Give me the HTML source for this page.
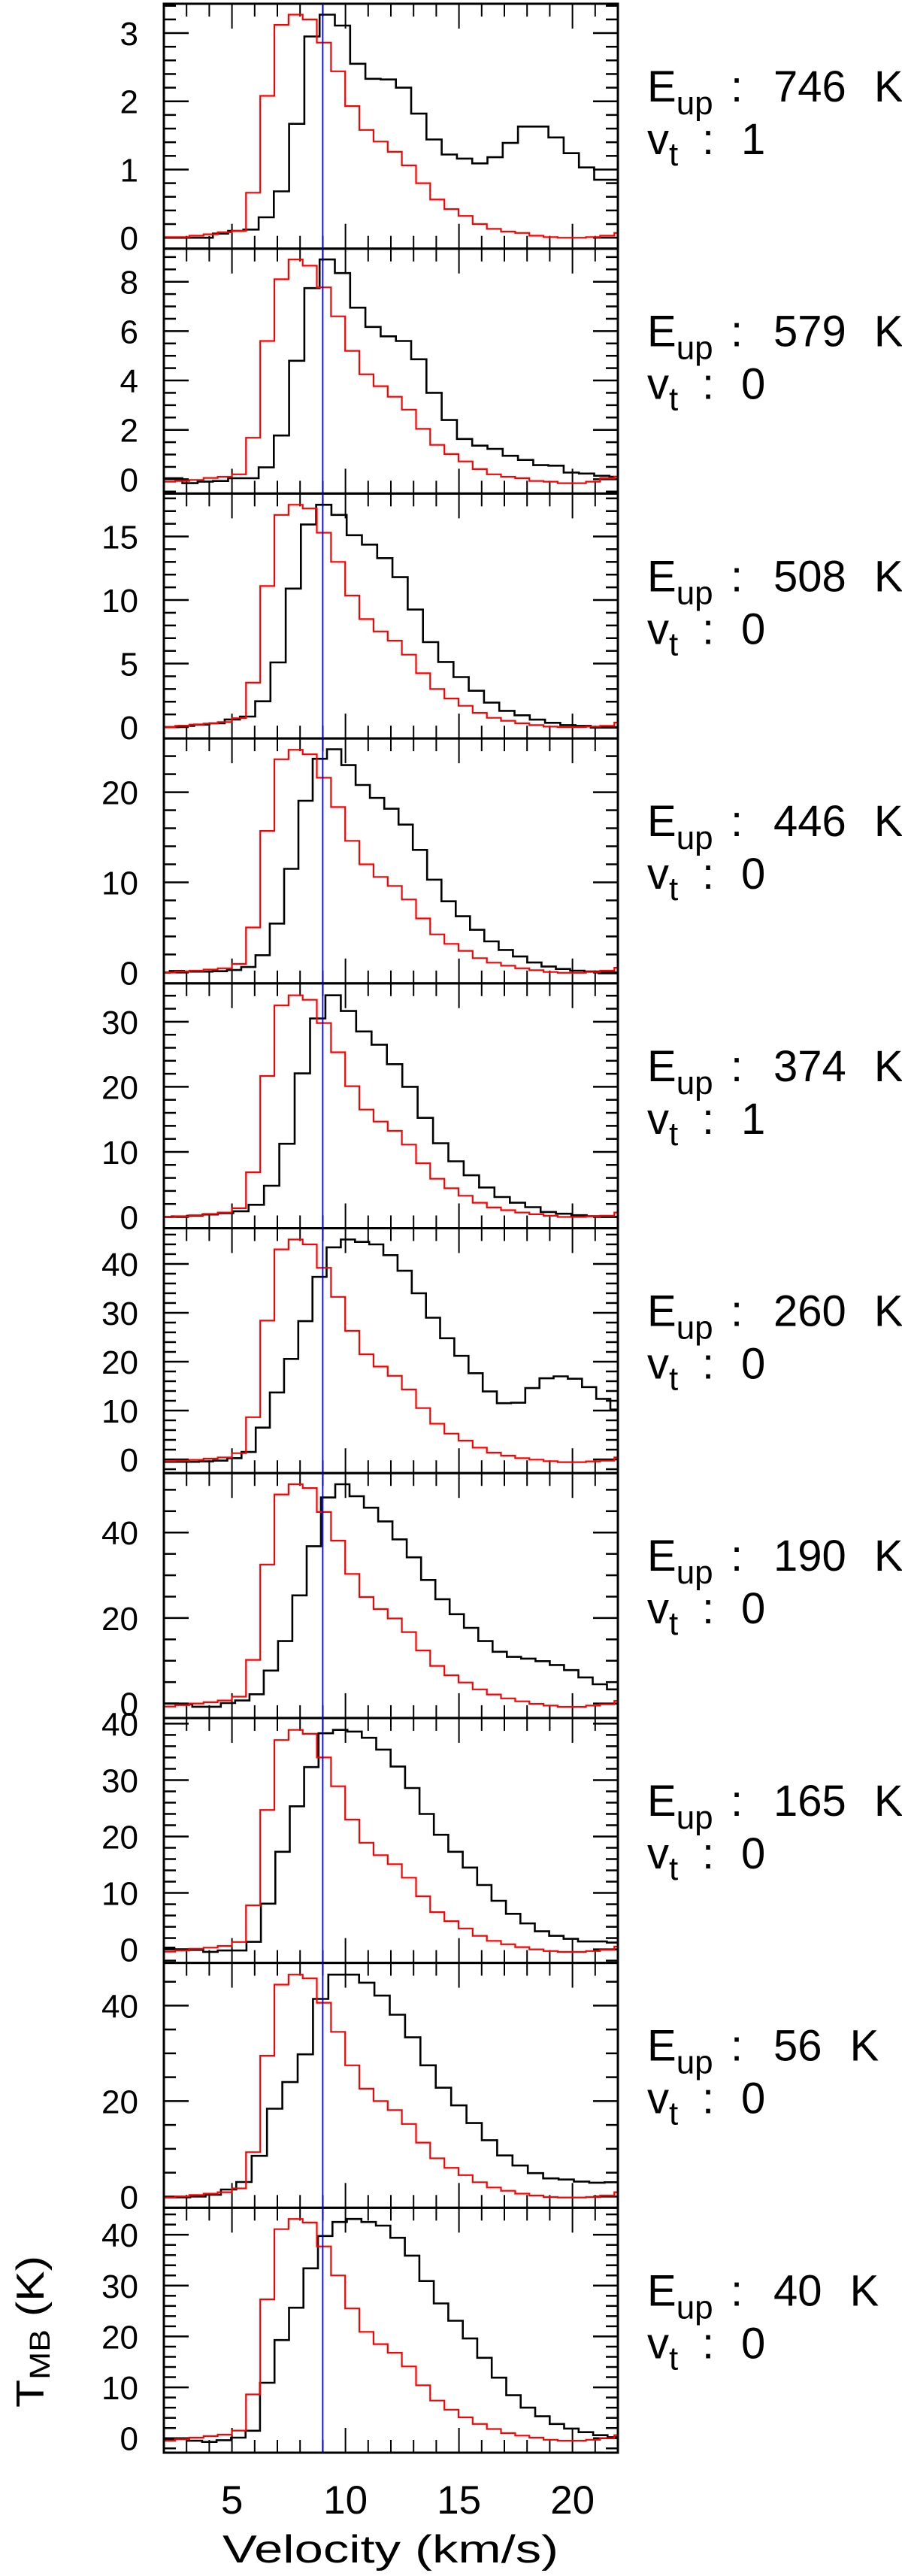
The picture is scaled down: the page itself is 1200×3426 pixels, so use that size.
<!DOCTYPE html>
<html><head><meta charset="utf-8"><title>Line profiles</title>
<style>html,body{margin:0;padding:0;background:#fff;}svg{display:block;font-family:"Liberation Sans",sans-serif;}</style>
</head><body>
<svg id="chart" xmlns="http://www.w3.org/2000/svg" width="1200" height="3426" viewBox="0 0 1200 3426">
<rect width="1200" height="3426" fill="#fff"/>
<g id="panels"></g>
<g id="xlabels"></g>
<text x="296" y="3408" font-size="52" textLength="447" lengthAdjust="spacingAndGlyphs">Velocity (km/s)</text>
<g transform="translate(58,3202) rotate(-90)">
<text x="0" y="0" font-size="52" textLength="202" lengthAdjust="spacingAndGlyphs">T<tspan font-size="38" dy="8">MB</tspan><tspan dy="-8"> (K)</tspan></text>
</g>
</svg>
<script>
// ---- data ----
const eupValues = [746, 579, 508, 446, 374, 260, 190, 165, 56, 40];
const vtValues = [1, 0, 0, 0, 1, 0, 0, 0, 0, 0];
const yMins = [-0.16, -0.58, -0.89, -1.2, -1.73, -2.8, -3.4, -2.4, -2.36, -2.85];
const yMaxs = [3.43, 9.34, 18.38, 25.96, 35.9, 47.3, 53.9, 41.0, 48.95, 45.3];
const yTickLabels = [[0,1,2,3],[0,2,4,6,8],[0,5,10,15],[0,10,20],[0,10,20,30],[0,10,20,30,40],[0,20,40],[0,10,20,30,40],[0,20,40],[0,10,20,30,40]];
const yMinorSteps = [0.2, 0.5, 1, 2, 2, 2, 5, 2, 5, 2];
const xTickLabels = [5, 10, 15, 20];
const xMin = 2, xMax = 22;
const refVelocity = 9.0;
const blackStarts = [1.47, 1.47, 1.99, 1.627, 1.67, 1.67, 1.99, 1.83, 1.81, 1.77];
const blackSteps = [0.672, 0.672, 0.672, 0.63, 0.677, 0.625, 0.63, 0.635, 0.676, 0.638];
const redStart = 1.876, redStep = 0.624;
const black1 = [0,0,0,0,0.06,0.1,0.12,0.3,0.68,1.67,2.95,3.27,3.11,2.55,2.33,2.32,2.2,1.82,1.44,1.22,1.16,1.09,1.18,1.39,1.63,1.63,1.47,1.24,1.03,0.85,0.85];
const black2 = [0.04,0.04,-0.16,-0.1,-0.07,0.04,0.04,0.48,1.77,4.8,7.74,8.9,8.35,6.95,6.17,5.79,5.6,4.86,3.5,2.4,1.63,1.36,1.23,0.95,0.78,0.57,0.55,0.27,0.23,0.14,0.1];
const black3 = [0,0.1,0.2,0.3,0.6,0.83,2.03,5.09,10.9,15.94,17.5,16.7,15.1,14.36,13.3,11.8,9.25,6.69,5.13,3.94,2.86,1.93,1.28,0.93,0.59,0.34,0.16,0.1,-0.04,-0.04];
const black4 = [0,0.17,0.1,0.1,0.14,0.28,0.61,1.92,5.43,11.5,19.05,23.7,24.76,23.0,20.8,19.36,18.16,16.4,13.6,10.3,7.9,6.24,4.74,3.45,2.5,1.78,1.11,0.67,0.39,0.2,0.11,-0.08,-0.08];
const black5 = [0,0.08,0.19,0.38,0.58,0.88,1.88,4.8,11.24,22.06,30.5,34.06,31.65,28.5,26.47,23.48,20.0,15.23,11.32,8.55,6.4,4.53,3.07,2.19,1.5,0.77,0.5,0.27,0.12,0,0];
const black6 = [-0.5,-0.5,-0.5,-0.4,-0.25,0.26,1.53,6.5,13.7,20.56,28.29,37.34,43.4,45.0,44.5,44.0,41.8,38.6,34.0,29.0,24.8,21.2,17.65,13.9,11.5,11.6,14.6,16.6,17.0,16.5,14.8,12.4,10.2,10.2];
const black7 = [0,-0.2,-0.76,-0.76,0.1,0.7,2.16,7.7,14.6,25.3,36.8,48.2,51.3,48.5,45.8,42.6,38.4,34.2,28.9,24.4,20.9,17.7,14.6,12.1,10.9,10.5,9.9,9.0,7.8,6.1,4.5,3.3,3.3];
const black8 = [0.3,0,-0.1,-0.44,-0.2,-0.2,1.33,8.1,17.3,25.35,32.3,38.3,38.9,38.6,37.5,35.4,32.4,28.6,24.0,20.3,17.3,14.5,11.4,8.6,6.3,4.6,3.2,2.4,1.86,1.4,1.4,1.2,1.2];
const black9 = [-0.16,-0.16,0,0.37,1.47,3.04,8.53,18.4,23.98,29.8,41.4,46.5,46.5,44.8,42.1,38.1,33.35,27.5,22.8,19.1,15.4,11.8,8.6,6.5,4.9,3.8,3.56,3.14,2.9,3.0,3.0];
const black10 = [-0.15,-0.15,-0.5,-0.74,-0.4,0.1,1.47,10.9,19.3,25.65,33.4,39.75,42.5,43.1,42.5,41.8,39.4,35.9,30.9,26.5,23.1,19.6,15.8,11.9,8.45,6.0,4.3,2.8,1.9,1.18,0.6,0.2,0.2];
const red1 = [0.01,0.01,0.03,0.05,0.08,0.1,0.66,2.08,3.12,3.27,3.2,2.86,2.44,1.93,1.58,1.41,1.26,1.06,0.8,0.56,0.42,0.32,0.2,0.13,0.09,0.07,0.03,0.01,0,0,0.01,0.03,0.07];
const red2 = [-0.1,-0.07,-0.03,0.05,0.1,0.2,1.68,5.6,8.1,8.9,8.65,7.77,6.6,5.2,4.25,3.77,3.34,2.82,2.04,1.39,1.02,0.72,0.41,0.2,0.1,0.04,-0.07,-0.1,-0.16,-0.16,-0.1,0.04,0.1];
const red3 = [0,0.1,0.2,0.28,0.4,0.7,3.5,11.1,16.7,17.5,17.2,15.3,13.0,10.35,8.5,7.53,6.8,5.7,4.24,3.0,2.25,1.68,1.12,0.73,0.5,0.3,0.16,0.04,0,0,0.04,0.1,0.36];
const red4 = [0,0.1,0.2,0.33,0.47,0.95,5.0,15.7,23.65,24.7,24.2,21.6,18.35,14.6,12.0,10.6,9.6,8.1,6.0,4.23,3.18,2.4,1.59,1.09,0.75,0.47,0.25,0.06,-0.03,-0.03,0.06,0.2,0.53];
const red5 = [0,0.08,0.27,0.46,0.69,1.34,6.87,21.67,32.5,34.06,33.37,29.8,25.3,20.1,16.5,14.65,13.23,11.12,8.25,5.87,4.41,3.26,2.19,1.46,1.04,0.69,0.42,0.19,0,0,0.08,0.19,0.69];
const red6 = [-0.36,-0.26,-0.1,0.15,0.4,1.28,8.64,28.4,42.97,45.0,44.0,39.2,33.25,26.3,21.5,19.0,17.1,14.3,10.5,7.3,5.27,3.84,2.4,1.38,0.77,0.26,-0.05,-0.36,-0.56,-0.56,-0.4,-0.26,0.4];
const red7 = [-0.7,-0.4,0.0,0.3,0.7,1.6,10.2,32.5,48.9,51.3,50.4,44.8,38.1,30.3,24.9,22.1,19.9,16.7,12.4,8.8,6.6,4.9,3.3,2.1,1.2,0.5,-0.1,-0.5,-0.8,-0.8,-0.5,-0.2,0.6];
const red8 = [-0.4,-0.2,0.1,0.3,0.6,1.3,7.8,24.7,37.1,38.9,38.2,34.0,28.9,23.0,18.9,16.7,15.1,12.7,9.4,6.6,5.0,3.7,2.4,1.5,0.9,0.4,0,-0.3,-0.45,-0.45,-0.3,-0.1,0.5];
const red9 = [-0.2,0,0.3,0.6,0.9,1.7,9.3,29.5,44.4,46.5,45.7,40.6,34.5,27.5,22.6,20.0,18.1,15.2,11.3,8.0,6.0,4.5,3.0,1.9,1.2,0.6,0.2,-0.1,-0.2,-0.2,-0.1,0.2,0.9];
const red10 = [-0.5,-0.2,0.1,0.4,0.7,1.5,8.6,27.3,41.1,43.1,42.4,37.7,32.0,25.5,20.9,18.5,16.8,14.1,10.4,7.4,5.6,4.1,2.8,1.8,1.0,0.5,0.1,-0.3,-0.5,-0.5,-0.3,0,0.6];
const blackSeries = [black1,black2,black3,black4,black5,black6,black7,black8,black9,black10];
const redSeries = [red1,red2,red3,red4,red5,red6,red7,red8,red9,red10];

// ---- layout ----
const NS = "http://www.w3.org/2000/svg";
const PL = 218, PR = 822, TOP0 = 5, PH = (3262 - 5) / 10;
function xScale(v) { return PL + (v - xMin) / (xMax - xMin) * (PR - PL); }
function mk(tag, attrs, parent) {
  const e = document.createElementNS(NS, tag);
  for (const k in attrs) e.setAttribute(k, attrs[k]);
  parent.appendChild(e);
  return e;
}
function stepPath(vals, start, step, ys) {
  let d = "";
  for (let i = 0; i < vals.length; i++) {
    const x0 = xScale(start + i * step), x1 = xScale(start + (i + 1) * step), y = ys(vals[i]);
    d += (i === 0 ? "M" : "L") + x0.toFixed(1) + "," + y.toFixed(1) + "L" + x1.toFixed(1) + "," + y.toFixed(1);
  }
  return d;
}
const panelsG = document.getElementById("panels");
for (let p = 0; p < 10; p++) {
  const top = TOP0 + p * PH, bot = top + PH;
  const ys = v => bot - (v - yMins[p]) / (yMaxs[p] - yMins[p]) * PH;
  const g = mk("g", {}, panelsG);
  
  
  const cp = mk("clipPath", {id: "clip" + p}, g);
  mk("rect", {x: PL, y: top, width: PR - PL, height: PH}, cp);
  const minor = yMinorSteps[p];
  const nStart = Math.ceil(yMins[p] / minor - 1e-6), nEnd = Math.floor(yMaxs[p] / minor + 1e-6);
  for (let n = nStart; n <= nEnd; n++) {
    const v = n * minor, y = ys(v);
    const major = yTickLabels[p].some(t => Math.abs(t - v) < 1e-6);
    const len = major ? 33 : 16;
    const t1 = mk("line", {x1: PL, x2: PL + len, y1: y, y2: y, stroke: "#000", "stroke-width": 2.5}, g);
    
    
    const t2 = mk("line", {x1: PR, x2: PR - len, y1: y, y2: y, stroke: "#000", "stroke-width": 2.5}, g);
    
    
  }
  yTickLabels[p].forEach(t => {
    const y = ys(t);
    if (y < top - 25) return;
    const tx = mk("text", {x: 184, y: y + 16, "font-size": 44, "text-anchor": "end"}, g);
    
    
    tx.textContent = t;
  });
  for (let v = 3; v <= 21; v++) {
    const x = xScale(v), len = (v % 5 === 0) ? 33 : 17;
    const a = mk("line", {x1: x, x2: x, y1: top, y2: top + len, stroke: "#000", "stroke-width": 2}, g);
    
    
    const b = mk("line", {x1: x, x2: x, y1: bot, y2: bot - len, stroke: "#000", "stroke-width": 2}, g);
    
    
  }
  const hb = mk("path", {d: stepPath(blackSeries[p], blackStarts[p], blackSteps[p], ys), fill: "none", stroke: "#000", "stroke-width": 2.6, "clip-path": "url(#clip" + p + ")"}, g);
  
  
  const hr = mk("path", {d: stepPath(redSeries[p], redStart, redStep, ys), fill: "none", stroke: "#ff0000", "stroke-width": 2.2, "clip-path": "url(#clip" + p + ")"}, g);
  
  
  const fr = mk("rect", {x: PL, y: top, width: PR - PL, height: PH, fill: "none", stroke: "#000", "stroke-width": 3}, g);
  
  
  const lg = mk("g", {"font-size": 58}, g);
  
  
  const e1 = mk("text", {x: 861, y: top + 130}, lg);
  e1.innerHTML = 'E<tspan font-size="44" dy="17">up</tspan>';
  const c1 = mk("text", {x: 972, y: top + 130}, lg); c1.textContent = ":";
  const v1 = mk("text", {x: 1029, y: top + 130, "word-spacing": 21}, lg); v1.textContent = eupValues[p] + " K";
  const e2 = mk("text", {x: 861, y: top + 200}, lg);
  e2.innerHTML = 'v<tspan font-size="44" dy="15">t</tspan>';
  const c2 = mk("text", {x: 934, y: top + 200}, lg); c2.textContent = ":";
  const v2 = mk("text", {x: 986, y: top + 200}, lg); v2.textContent = vtValues[p];
}
const bl = mk("line", {x1: xScale(refVelocity), x2: xScale(refVelocity), y1: TOP0, y2: TOP0 + 10 * PH, stroke: "#0000cc", "stroke-width": 1.8}, document.getElementById("chart"));


const xl = document.getElementById("xlabels");
xTickLabels.forEach(t => {
  const tx = mk("text", {x: xScale(t), y: 3343, "font-size": 53, "text-anchor": "middle"}, xl);
  
  
  tx.textContent = t;
});
</script>
</body></html>
